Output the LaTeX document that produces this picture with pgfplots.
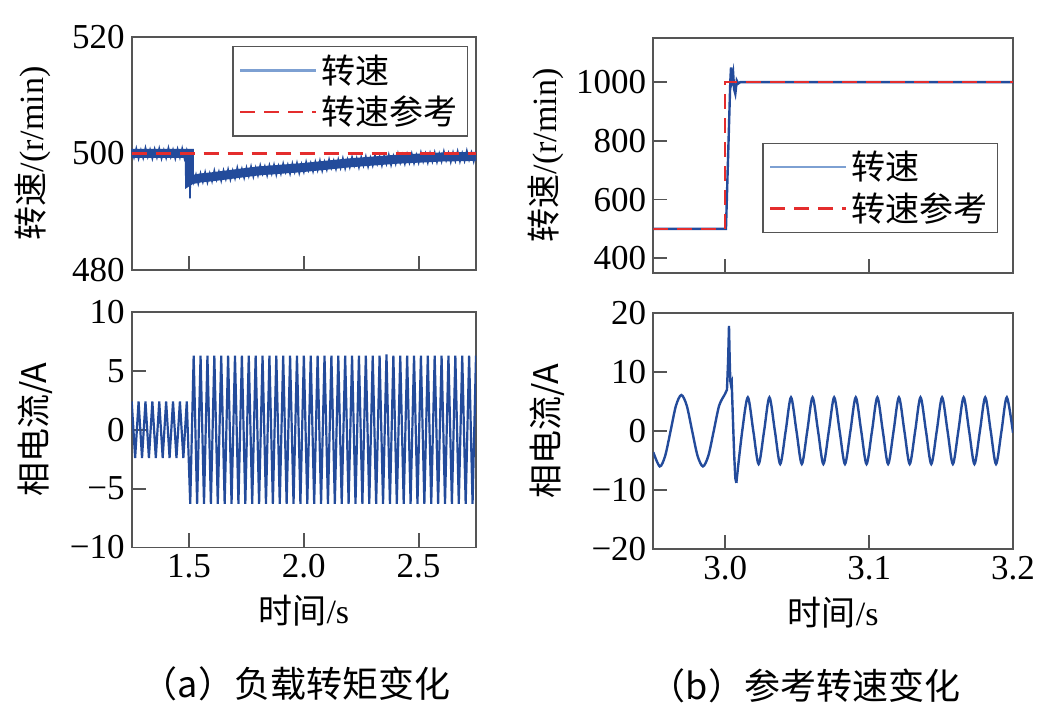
\documentclass[border=0pt]{standalone}
\usepackage{pgfplots}
\pgfplotsset{compat=1.18}
\usepackage{fontspec}
\setmainfont{Liberation Serif}
\newfontfamily\cjk{Noto Sans CJK SC}
\definecolor{dblue}{RGB}{35,75,155}
\definecolor{lblue}{RGB}{125,160,210}
\definecolor{lred}{RGB}{228,45,45}
\definecolor{axgray}{RGB}{85,85,85}
\pgfplotsset{
  every axis/.append style={
    scale only axis,
    clip mode=individual,
    axis line style={axgray, line width=0.9pt},
    tick style={axgray, line width=0.9pt},
    major tick length=7pt,
    tick align=inside,
    tick pos=left,
    font=\fontsize{17}{20}\selectfont,
    ticklabel style={font=\fontsize{17.5}{20}\selectfont},
    /pgf/number format/assume math mode=true,
    legend cell align=left,
    legend style={draw=axgray, line width=0.6pt, font=\fontsize{17}{20}\selectfont, inner xsep=3pt, inner ysep=2pt, row sep=1pt},
    legend image code/.code={\draw[#1] (0pt,0pt) -- (38pt,0pt);},
    ylabel style={anchor=center, rotate=0},
    xlabel style={anchor=center},
  }
}
\begin{document}
\begin{tikzpicture}
\useasboundingbox (0,0) rectangle (526pt,355pt);
% ---------- (a) top ----------
\begin{axis}[at={(65.85pt,220pt)}, anchor=south west, width=172.15pt, height=116.5pt,
  xmin=1.25, xmax=2.75, ymin=480, ymax=520,
  xtick={1.5,2.0,2.5}, xticklabels={},
  ytick={480,500,520}, yticklabels={480,500,520},
  ylabel={{\cjk 转速}/(r/min)}, ylabel style={at={(axis description cs:-0.288,0.5)}},
  legend style={at={(0.977,0.961)}, anchor=north east}]
% trend of the noisy band
\addplot[dblue, line width=4.5pt, forget plot] coordinates {
(1.25,500.0)(1.501,500.0)(1.502,495.3)(1.51,495.5)(1.55,495.8)(1.60,496.0)(1.70,496.5)(1.80,497.0)(1.90,497.3)(2.00,497.6)
(2.10,498.0)(2.20,498.4)(2.30,498.7)(2.40,499.0)(2.50,499.2)(2.60,499.4)(2.75,499.5)};
\addplot[dblue, line width=0.8pt, forget plot] coordinates {
(1.25,500.8)(1.26,499.3)(1.27,500.9)(1.28,499.1)(1.29,500.6)(1.30,499.2)(1.31,501.0)(1.32,499.4)(1.33,500.7)(1.34,499.1)
(1.35,500.8)(1.36,499.3)(1.37,500.9)(1.38,499.1)(1.39,500.6)(1.40,499.2)(1.41,501.0)(1.42,499.4)(1.43,500.7)(1.44,499.1)
(1.45,500.8)(1.46,499.3)(1.47,500.9)(1.48,499.1)(1.49,500.6)(1.50,499.2)(1.502,500.5)(1.504,492.3)(1.506,496.4)
(1.51,496.5)(1.52,495.0)(1.53,496.4)(1.54,494.8)(1.55,496.6)(1.56,495.1)(1.57,496.8)(1.58,495.0)(1.59,496.6)(1.60,495.2)
(1.61,497.1)(1.62,495.5)(1.63,496.9)(1.64,495.3)(1.65,497.1)(1.66,495.6)(1.67,497.3)(1.68,495.5)(1.69,497.1)(1.70,495.7)
(1.71,497.6)(1.72,496.0)(1.73,497.4)(1.74,495.8)(1.75,497.6)(1.76,496.1)(1.77,497.8)(1.78,496.0)(1.79,497.6)(1.80,496.2)
(1.81,498.0)(1.82,496.5)(1.83,497.8)(1.84,496.2)(1.85,498.0)(1.86,496.5)(1.87,498.1)(1.88,496.3)(1.89,497.9)(1.90,496.5)
(1.91,498.3)(1.92,496.8)(1.93,498.1)(1.94,496.5)(1.95,498.3)(1.96,496.8)(1.97,498.4)(1.98,496.6)(1.99,498.2)(2.00,496.8)
(2.01,498.6)(2.02,497.1)(2.03,498.4)(2.04,496.9)(2.05,498.6)(2.06,497.1)(2.07,498.8)(2.08,497.0)(2.09,498.6)(2.10,497.2)
(2.11,499.0)(2.12,497.5)(2.13,498.8)(2.14,497.3)(2.15,499.0)(2.16,497.5)(2.17,499.2)(2.18,497.4)(2.19,499.0)(2.20,497.6)
(2.21,499.4)(2.22,497.9)(2.23,499.2)(2.24,497.6)(2.25,499.4)(2.26,497.9)(2.27,499.5)(2.28,497.7)(2.29,499.3)(2.30,497.9)
(2.31,499.7)(2.32,498.2)(2.33,499.5)(2.34,497.9)(2.35,499.7)(2.36,498.2)(2.37,499.8)(2.38,498.0)(2.39,499.6)(2.40,498.2)
(2.41,500.0)(2.42,498.4)(2.43,499.8)(2.44,498.2)(2.45,499.9)(2.46,498.4)(2.47,500.0)(2.48,498.3)(2.49,499.8)(2.50,498.4)
(2.51,500.2)(2.52,498.6)(2.53,500.0)(2.54,498.4)(2.55,500.1)(2.56,498.6)(2.57,500.2)(2.58,498.5)(2.59,500.0)(2.60,498.6)
(2.61,500.4)(2.62,498.8)(2.63,500.1)(2.64,498.5)(2.65,500.2)(2.66,498.7)(2.67,500.4)(2.68,498.6)(2.69,500.1)(2.70,498.7)
(2.71,500.5)(2.72,498.9)(2.73,500.2)(2.74,498.6)(2.75,500.3)};
\addplot[lred, line width=1.2pt, dash pattern=on 7.5pt off 4.5pt, forget plot] coordinates {(1.25,500)(2.75,500)};
\addlegendimage{lblue, line width=1.2pt}
\addlegendentry{\cjk 转速}
\addlegendimage{lred, line width=1.2pt, dash pattern=on 7.5pt off 4.5pt}
\addlegendentry{\cjk 转速参考}
\end{axis}
% ---------- (a) bottom ----------
\begin{axis}[at={(65.85pt,81.25pt)}, anchor=south west, width=172.15pt, height=117.75pt,
  xmin=1.25, xmax=2.75, ymin=-10, ymax=10,
  xtick={1.5,2.0,2.5}, xticklabels={1.5,2.0,2.5},
  ytick={-10,-5,0,5,10}, yticklabels={−10,−5,0,5,10},
  ylabel={\cjk 相电流/A}, ylabel style={at={(axis description cs:-0.281,0.5)}},
  xlabel={{\cjk 时间}/s}, xlabel style={at={(axis description cs:0.5,-0.27)}}]
\addplot[dblue, line width=1.1pt] coordinates {
(1.25,2.4)(1.265,-2.4)(1.28,2.4)(1.295,-2.4)(1.31,2.4)(1.325,-2.4)(1.34,2.4)(1.355,-2.4)(1.37,2.4)(1.385,-2.4)
(1.40,2.4)(1.415,-2.4)(1.43,2.4)(1.445,-2.4)(1.46,2.4)(1.475,-2.4)(1.49,2.4)(1.505,-6.3)(1.52,6.3)(1.535,-6.3)
(1.55,6.3)(1.565,-6.3)(1.58,6.3)(1.595,-6.3)(1.61,6.3)(1.625,-6.3)(1.64,6.3)(1.655,-6.3)(1.67,6.3)(1.685,-6.3)
(1.70,6.3)(1.715,-6.3)(1.73,6.3)(1.745,-6.3)(1.76,6.3)(1.775,-6.3)(1.79,6.3)(1.805,-6.3)(1.82,6.3)(1.835,-6.3)
(1.85,6.3)(1.865,-6.3)(1.88,6.3)(1.895,-6.3)(1.91,6.3)(1.925,-6.3)(1.94,6.3)(1.955,-6.3)(1.97,6.3)(1.985,-6.3)
(2.00,6.3)(2.015,-6.3)(2.03,6.3)(2.045,-6.3)(2.06,6.3)(2.075,-6.3)(2.09,6.3)(2.105,-6.3)(2.12,6.3)(2.135,-6.3)
(2.15,6.3)(2.165,-6.3)(2.18,6.3)(2.195,-6.3)(2.21,6.3)(2.225,-6.3)(2.24,6.3)(2.255,-6.3)(2.27,6.3)(2.285,-6.3)
(2.30,6.3)(2.315,-6.3)(2.33,6.3)(2.345,-6.3)(2.36,6.4)(2.375,-6.3)(2.39,6.3)(2.405,-6.3)(2.42,6.3)(2.435,-6.3)
(2.45,6.3)(2.465,-6.3)(2.48,6.3)(2.495,-6.3)(2.51,6.3)(2.525,-6.3)(2.54,6.3)(2.555,-6.3)(2.57,6.3)(2.585,-6.3)
(2.60,6.3)(2.615,-6.3)(2.63,6.3)(2.645,-6.3)(2.66,6.3)(2.675,-6.3)(2.69,6.3)(2.705,-6.3)(2.72,6.3)(2.735,-6.3)(2.75,6.3)};
\node[font=\fontsize{18}{20}\selectfont\cjk] at (axis description cs:0.477,-0.58) {（a）负载转矩变化};
\end{axis}
% ---------- (b) top ----------
\begin{axis}[at={(326.65pt,218.5pt)}, anchor=south west, width=179.85pt, height=117.5pt,
  xmin=2.95, xmax=3.2, ymin=350, ymax=1150,
  xtick={3.0,3.1,3.2}, xticklabels={},
  ytick={400,600,800,1000}, yticklabels={400,600,800,1000},
  ylabel={{\cjk 转速}/(r/min)}, ylabel style={at={(axis description cs:-0.30,0.5)}},
  legend style={at={(0.958,0.555)}, anchor=north east}]
\addplot[dblue, line width=1.2pt, forget plot] coordinates {
(2.95,500)(3.0005,500)(3.0035,1000)(3.0040,1050)(3.0048,1010)(3.0055,1030)(3.0062,975)(3.0070,960)(3.0080,1005)(3.0090,995)(3.0105,1000)(3.2,1000)};
\addplot[lred, line width=1.2pt, dash pattern=on 7.5pt off 4.5pt, forget plot] coordinates {(2.95,500)(3.0,500)(3.0,1000)(3.2,1000)};
\addlegendimage{lblue, line width=1.2pt}
\addlegendentry{\cjk 转速}
\addlegendimage{lred, line width=1.2pt, dash pattern=on 7.5pt off 4.5pt}
\addlegendentry{\cjk 转速参考}
\end{axis}
% ---------- (b) bottom ----------
\begin{axis}[at={(326.65pt,80.5pt)}, anchor=south west, width=179.85pt, height=118pt,
  xmin=2.95, xmax=3.2, ymin=-20, ymax=20,
  xtick={3.0,3.1,3.2}, xticklabels={3.0,3.1,3.2},
  ytick={-20,-10,0,10,20}, yticklabels={−20,−10,0,10,20},
  ylabel={\cjk 相电流/A}, ylabel style={at={(axis description cs:-0.294,0.5)}},
  xlabel={{\cjk 时间}/s}, xlabel style={at={(axis description cs:0.5,-0.27)}}]
\addplot[dblue, line width=1.2pt, smooth] coordinates {
(2.95,-3.6)(2.9545,-6.0)(2.95825,-4.2)(2.962,0)(2.96575,4.3)(2.9695,6.1)(2.97325,4.3)(2.977,0)(2.98075,-4.2)(2.9845,-6.0)(2.98825,-4.2)(2.992,0)(2.99575,4.3)(2.9995,6.1)};
\addplot[dblue, line width=1.2pt] coordinates {
(2.9995,6.1)(3.0012,7)(3.0020,12)(3.0026,17.8)(3.0031,12)(3.0035,8.5)(3.0040,7.8)(3.0045,8.2)(3.0052,3)(3.0062,-4)(3.0070,-8.0)(3.0077,-8.8)};
\addplot[dblue, line width=1.2pt, smooth] coordinates {
(3.0077,-8.8)(3.0118,0)(3.0157,5.7)(3.0195,0)(3.0232,-5.6)(3.0270,0)
(3.0307,5.7)(3.0345,0)(3.0382,-5.6)(3.0420,0)
(3.0457,5.7)(3.0495,0)(3.0532,-5.6)(3.0570,0)
(3.0607,5.7)(3.0645,0)(3.0682,-5.6)(3.0720,0)
(3.0757,5.7)(3.0795,0)(3.0832,-5.6)(3.0870,0)
(3.0907,5.7)(3.0945,0)(3.0982,-5.6)(3.1020,0)
(3.1057,5.7)(3.1095,0)(3.1132,-5.6)(3.1170,0)
(3.1207,5.7)(3.1245,0)(3.1282,-5.6)(3.1320,0)
(3.1357,5.7)(3.1395,0)(3.1432,-5.6)(3.1470,0)
(3.1507,5.7)(3.1545,0)(3.1582,-5.6)(3.1620,0)
(3.1657,5.7)(3.1695,0)(3.1732,-5.6)(3.1770,0)
(3.1807,5.7)(3.1845,0)(3.1882,-5.6)(3.1920,0)
(3.1957,5.7)(3.2,-0.3)};
\node[font=\fontsize{18}{20}\selectfont\cjk] at (axis description cs:0.422,-0.58) {（b）参考转速变化};
\end{axis}
\end{tikzpicture}
\end{document}
